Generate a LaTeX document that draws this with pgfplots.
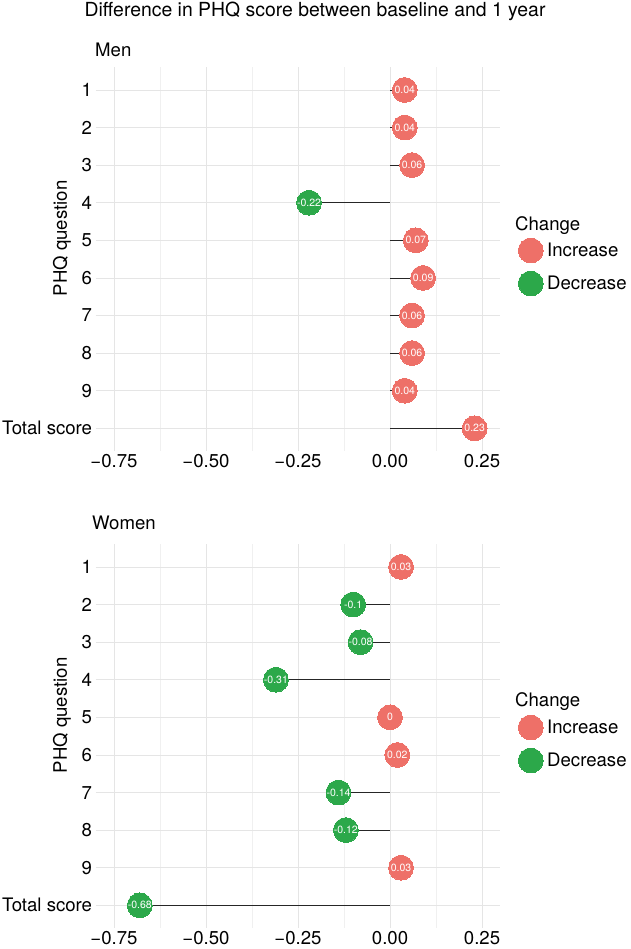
\documentclass[border=0pt]{standalone}
\usepackage{fontspec}
\setmainfont{TeX Gyre Heros}
\usepackage{pgfplots}
\pgfplotsset{compat=1.18}
\definecolor{inc}{HTML}{EE7068}
\definecolor{dec}{HTML}{2CA84A}
\newcommand\bigf{\fontsize{18.6bp}{22bp}\selectfont}
\newcommand\smallf{\fontsize{10.5bp}{12bp}\selectfont}
\pgfplotsset{
  lolli/.style={
    scale only axis, width=404.8bp, height=383.5bp,
    xmin=-0.80, xmax=0.30,
    ymin=0.4, ymax=10.6, y dir=reverse,
    xtick={-0.75,-0.5,-0.25,0,0.25},
    xticklabels={−0.75,−0.50,−0.25,0.00,0.25},
    minor x tick num=1,
    ytick={1,...,10},
    yticklabels={1,2,3,4,5,6,7,8,9,Total score},
    grid=both,
    major grid style={color=black!10, line width=0.6bp},
    minor grid style={color=black!6, line width=0.45bp},
    axis line style={draw=none},
    major tick length=0pt, minor tick length=0pt,
    tick style={draw=none},
    ticklabel style={font=\bigf},
    /pgf/number format/assume math mode=true,
    ylabel={PHQ question},
    every axis y label/.style={at={(rel axis cs:0,0.554)}, rotate=90, anchor=center, yshift=33.6bp, font=\bigf},
    legend cell align=left,
    legend style={draw=none, fill=none, inner sep=0pt, row sep=8bp, font=\bigf,
      at={(rel axis cs:1.0435,0.5557)}, anchor=north west, nodes={inner sep=1bp}},
    legend image code/.code={\path[draw=none,fill=none] (0bp,-12.5bp) rectangle (28bp,12.5bp); \draw[##1] plot coordinates {(12.5bp,0bp)};},
    clip=false,
  },
  incp/.style={only marks, color=inc, mark=*, mark size=12.4bp, mark options={draw=inc, fill=inc, line width=0pt}},
  decp/.style={only marks, color=dec, mark=*, mark size=12.4bp, mark options={draw=dec, fill=dec, line width=0pt}},
  segp/.style={xcomb, mark=none, color=black!85, line width=0.65bp, forget plot},
  labp/.style={draw=none, mark=none, forget plot, point meta=explicit symbolic,
    nodes near coords, every node near coord/.append style={anchor=center, font=\smallf, text=white, inner sep=0pt}},
}
\begin{document}
\begin{tikzpicture}
\path[use as bounding box] (0,0) rectangle (631bp,949bp);
\node[font=\fontsize{19.4bp}{23bp}\selectfont, anchor=base, inner sep=0pt] at (315bp,932bp) {Difference in PHQ score between baseline and 1 year};
\node[font=\bigf, anchor=west, inner sep=0pt] at (95bp,899bp) {Men};
\node[font=\bigf, anchor=west, inner sep=0pt] at (92bp,426bp) {Women};

\begin{axis}[lolli, at={(95.6bp,881.6bp)}, anchor=north west]
\addplot[incp] coordinates {(0.04,1) (0.04,2) (0.06,3) (0.07,5) (0.09,6) (0.06,7) (0.06,8) (0.04,9) (0.23,10)};
\addlegendentry{Increase}
\addplot[decp] coordinates {(-0.22,4)};
\addlegendentry{Decrease}
\addplot[segp] coordinates {(0.04,1) (0.04,2) (0.06,3) (-0.22,4) (0.07,5) (0.09,6) (0.06,7) (0.06,8) (0.04,9) (0.23,10)};
\addplot[labp] coordinates {(0.04,1) [0.04] (0.04,2) [0.04] (0.06,3) [0.06] (-0.22,4) [-0.22] (0.07,5) [0.07] (0.09,6) [0.09] (0.06,7) [0.06] (0.06,8) [0.06] (0.04,9) [0.04] (0.23,10) [0.23]};
\node[font=\bigf, anchor=west, inner sep=0pt] at (rel axis cs:1.036,0.588) {Change};
\end{axis}

\begin{axis}[lolli, at={(95.6bp,404.6bp)}, anchor=north west]
\addplot[incp] coordinates {(0.03,1) (0,5) (0.02,6) (0.03,9)};
\addlegendentry{Increase}
\addplot[decp] coordinates {(-0.1,2) (-0.08,3) (-0.31,4) (-0.14,7) (-0.12,8) (-0.68,10)};
\addlegendentry{Decrease}
\addplot[segp] coordinates {(0.03,1) (-0.1,2) (-0.08,3) (-0.31,4) (0,5) (0.02,6) (-0.14,7) (-0.12,8) (0.03,9) (-0.68,10)};
\addplot[labp] coordinates {(0.03,1) [0.03] (-0.1,2) [-0.1] (-0.08,3) [-0.08] (-0.31,4) [-0.31] (0,5) [0] (0.02,6) [0.02] (-0.14,7) [-0.14] (-0.12,8) [-0.12] (0.03,9) [0.03] (-0.68,10) [-0.68]};
\node[font=\bigf, anchor=west, inner sep=0pt] at (rel axis cs:1.036,0.59) {Change};
\end{axis}
\end{tikzpicture}
\end{document}
